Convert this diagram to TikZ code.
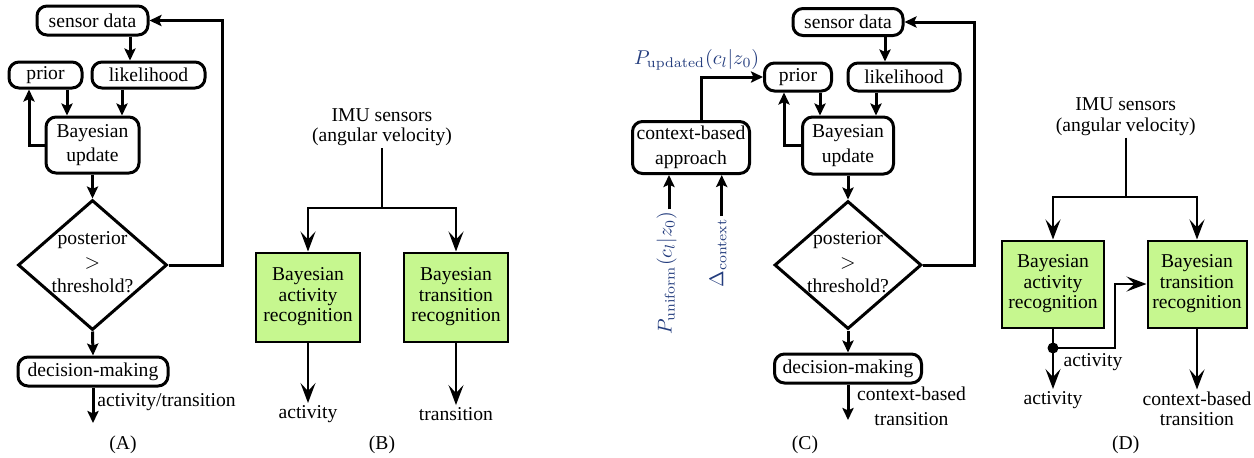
\documentclass[tikz,border=0pt]{standalone}
\usepackage[no-math]{fontspec}
\setmainfont{Liberation Serif}
\usetikzlibrary{arrows.meta,shapes.geometric,calc}
\definecolor{boxgreen}{RGB}{198,247,143}
\definecolor{mathblue}{RGB}{35,60,125}
\begin{document}
\begin{tikzpicture}[x=0.5pt,y=-0.5pt,
  every node/.style={font=\fontsize{9.8pt}{12.3pt}\selectfont},
  rbox/.style={draw,line width=1.5pt,rounded corners=5pt,inner sep=1pt,align=center},
  dia/.style={draw,diamond,line width=1.5pt,inner sep=0pt},
  gbox/.style={draw,line width=1pt,fill=boxgreen,align=center,inner sep=1pt,font=\fontsize{9.8pt}{10.2pt}\selectfont},
  plain/.style={align=center,inner sep=1pt,font=\fontsize{9.8pt}{10.2pt}\selectfont},
  arrA/.style={line width=1.5pt,-{Stealth[length=6pt,width=5.6pt,inset=1.2pt]}},
  lnA/.style={line width=1.5pt},
  arrD/.style={line width=1pt,-{Stealth[length=10pt,width=7.5pt,inset=4pt]}},
  lnD/.style={line width=1pt}]
\useasboundingbox (0,0) rectangle (1254,457);

% ---------------- Panel A ----------------
\node[rbox,minimum width=55.5pt,minimum height=14.5pt] (sA) at (92.5,20.5) {sensor data};
\node[rbox,minimum width=36.5pt,minimum height=13pt] (pA) at (45.5,75) {prior};
\node[rbox,minimum width=56.5pt,minimum height=13pt] (lA) at (148.5,75) {likelihood};
\node[rbox,minimum width=46.5pt,minimum height=28pt] (bA) at (92.5,145) {Bayesian\\update};
\node[dia,minimum width=74.5pt,minimum height=65pt] (dA) at (92.5,265) {};
\node[align=center,inner sep=0pt,font=\fontsize{9.8pt}{12pt}\selectfont] (dAt) at (92.5,262) {posterior\\$>$\\threshold?};
\node[rbox,minimum width=75pt,minimum height=14.5pt] (mA) at (93,371.5) {decision-making};
\coordinate (eA) at (93,423);
\node[anchor=west,inner sep=0pt] (labA) at (97,402) {activity/transition};
\node (capA) at (123,445) {(A)};

\draw[arrA] (sA.south -| 130,0) -- (lA.north -| 130,0);
\draw[arrA] (pA.south -| 67,0) -- (bA.north -| 67,0);
\draw[arrA] (lA.south -| 122,0) -- (bA.north -| 122,0);
\draw[arrA] (bA.west) -| (pA.south -| 29,0);
\draw[arrA] (bA.south) -- (dA.north);
\draw[arrA] (dA.east) -- (dA.east -| 222,0) |- (sA.east);
\draw[arrA] (dA.south) -- (mA.north);
\draw[arrA] (mA.south) -- (eA);

% ---------------- Panel B ----------------
\node[plain] (imuB) at (382,127) {IMU sensors\\(angular velocity)};
\coordinate (jB) at (382,208);
\node[gbox,minimum width=52pt,minimum height=44.5pt] (aB) at (308,297) {Bayesian\\activity\\recognition};
\node[gbox,minimum width=52pt,minimum height=44.5pt] (tB) at (456,297) {Bayesian\\transition\\recognition};
\node[plain] (oB1) at (308,414) {activity};
\node[plain] (oB2) at (456,414) {transition};
\node (capB) at (382,445) {(B)};

\draw[lnD] (imuB.south) -- (jB);
\draw[arrD] (jB) -| (aB.north);
\draw[arrD] (jB) -| (tB.north);
\draw[arrD] (aB.south) -- (oB1.north);
\draw[arrD] (tB.south) -- (oB2.north);

% ---------------- Panel C ----------------
\node[rbox,minimum width=55pt,minimum height=13.5pt] (sC) at (848,22) {sensor data};
\node[rbox,minimum width=33.5pt,minimum height=14pt] (pC) at (798,77) {prior};
\node[rbox,minimum width=56pt,minimum height=14pt] (lC) at (904,77) {likelihood};
\node[rbox,minimum width=45.5pt,minimum height=28.5pt] (bC) at (848,145.5) {Bayesian\\update};
\node[rbox,minimum width=58.5pt,minimum height=26pt] (cC) at (691,147.5) {context-based\\approach};
\node[dia,minimum width=73.5pt,minimum height=64pt] (dC) at (848,265) {};
\node[align=center,inner sep=0pt,font=\fontsize{9.8pt}{12pt}\selectfont] (dCt) at (848,262) {posterior\\$>$\\threshold?};
\node[rbox,minimum width=73.5pt,minimum height=14.5pt] (mC) at (848,368.5) {decision-making};
\coordinate (eC) at (848,420);
\node[align=center,inner sep=0pt] (labC) at (911.5,406) {context-based\\transition};
\node (capC) at (805,445) {(C)};
\node[text=mathblue,inner sep=0pt] (upC) at (696.7,60) {$P_{\mathrm{updated}}(c_l|z_0)$};
\node[text=mathblue,rotate=90,inner sep=1pt] (puC) at (666.7,273) {$P_{\mathrm{uniform}}(c_l|z_0)$};
\node[text=mathblue,rotate=90,inner sep=1pt] (dxC) at (718,253) {$\Delta_{\mathrm{context}}$};

\draw[arrA] (sC.south -| 885,0) -- (lC.north -| 885,0);
\draw[arrA] (pC.south -| 820,0) -- (bC.north -| 820,0);
\draw[arrA] (lC.south -| 876,0) -- (bC.north -| 876,0);
\draw[arrA] (bC.west) -| (pC.south -| 784,0);
\draw[arrA] (cC.north -| 701.7,0) |- (pC.west);
\draw[arrA] (puC.east -| 669,0) -- (cC.south -| 669,0);
\draw[arrA] (dxC.east -| 721.7,0) -- (cC.south -| 721.7,0);
\draw[arrA] (bC.south) -- (dC.north);
\draw[arrA] (dC.east) -- (dC.east -| 974,0) |- (sC.east);
\draw[arrA] (dC.south) -- (mC.north);
\draw[arrA] (mC.south) -- (eC);

% ---------------- Panel D ----------------
\node[plain] (imuD) at (1125.7,116.5) {IMU sensors\\(angular velocity)};
\coordinate (jD) at (1125.7,196.7);
\node[gbox,minimum width=51pt,minimum height=43.5pt] (aD) at (1053,284) {Bayesian\\activity\\recognition};
\node[gbox,minimum width=49.5pt,minimum height=43.5pt] (tD) at (1197,284) {Bayesian\\transition\\recognition};
\node[circle,fill,inner sep=0pt,minimum size=5.5pt] (dotD) at (1053,348) {};
\node[plain] (oD1) at (1053,400) {activity};
\node[plain] (oD2) at (1197,409) {context-based\\transition};
\node[plain] (labD) at (1093,362) {activity};
\node (capD) at (1125.7,445) {(D)};

\draw[lnD] (imuD.south) -- (jD);
\draw[arrD] (jD) -| (aD.north);
\draw[arrD] (jD) -| (tD.north);
\draw[lnD] (aD.south) -- (dotD.center);
\draw[arrD] (dotD.center) -- (oD1.north);
\draw[arrD] (dotD.center) -- (dotD -| 1115,0) |- (tD.west);
\draw[arrD] (tD.south) -- (oD2.north);
\end{tikzpicture}
\end{document}
